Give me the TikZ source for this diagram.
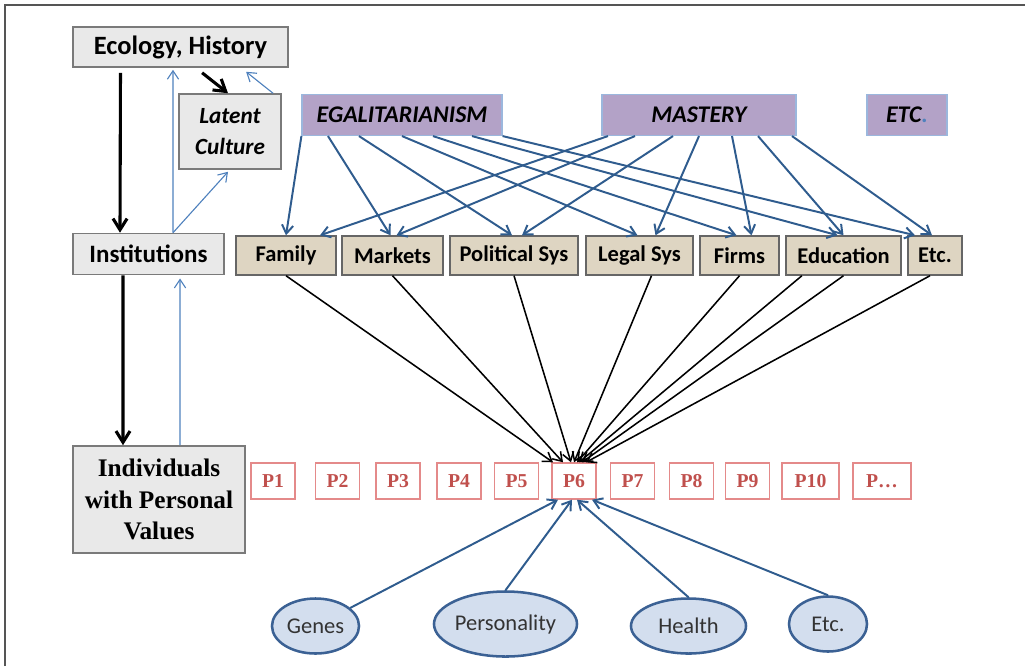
\documentclass[tikz,border=0pt]{standalone}
\usepackage{fontspec}
\setmainfont{Carlito}
\newfontfamily\timesfont{Liberation Serif}
\usetikzlibrary{shapes.geometric,arrows.meta}

\definecolor{framegrey}{HTML}{555555}
\definecolor{greyfill}{HTML}{E9E9E9}
\definecolor{greyedge}{HTML}{7A7A7A}
\definecolor{tanfill}{HTML}{DED5C2}
\definecolor{tanedge}{HTML}{666666}
\definecolor{lilac}{HTML}{B3A2C7}
\definecolor{lilacedge}{HTML}{9BB7DD}
\definecolor{steel}{HTML}{2F5C8E}
\definecolor{skyblue}{HTML}{4F81BD}
\definecolor{pred}{HTML}{C0504D}
\definecolor{pedge}{HTML}{E48A8A}
\definecolor{ovalfill}{HTML}{D3DEEE}
\definecolor{ovaledge}{HTML}{3B6194}

\tikzstyle{every node}=[font=\fontsize{16}{19}\selectfont, inner sep=0pt]
\tikzstyle{greybox}=[draw=greyedge, fill=greyfill, line width=1.1pt]
\tikzstyle{valuebox}=[draw=lilacedge, fill=lilac, line width=0.8pt, minimum height=1.025cm, font=\fontsize{17}{20}\selectfont\bfseries\itshape]
\tikzstyle{instbox}=[draw=tanedge, fill=tanfill, line width=1pt, minimum height=0.975cm, font=\fontsize{16}{19}\selectfont\bfseries]
\tikzstyle{pbox}=[draw=pedge, line width=1pt, minimum width=1.1cm, minimum height=0.9cm, text=pred, font=\fontsize{14}{16}\timesfont\bfseries]
\tikzstyle{factor}=[ellipse, draw=ovaledge, fill=ovalfill, line width=1.8pt, minimum height=1.375cm, text=black!80]
\tikzstyle{vlink}=[->, steel, line width=1.4pt]
\tikzstyle{plink}=[->, black, line width=1.1pt]
\tikzstyle{bigdown}=[->, black, line width=2.2pt, >={Straight Barb[length=8pt,width=10pt]}]
\tikzstyle{thinup}=[->, skyblue, line width=0.8pt]

\begin{document}
\begin{tikzpicture}[x=0.025cm, y=-0.025cm, >={Straight Barb[length=6pt,width=8pt]}]
            % 边框
            \useasboundingbox (0,0) rectangle (1025,666);
            \draw[framegrey, line width=1pt] (5,666) -- (5,5) -- (1025,5);

            % 左列
            \node[greybox, minimum width=5.375cm, minimum height=1cm, font=\fontsize{18.8}{20}\selectfont\bfseries] (eco) at (180.5,47) {Ecology, History};
            \node[greybox, minimum width=2.55cm, minimum height=1.875cm, align=center, font=\fontsize{16.5}{22.5}\selectfont\bfseries\itshape] (latent) at (230,131.5) {Latent\\Culture};
            \node[greybox, minimum width=3.775cm, minimum height=1.025cm, font=\fontsize{17.8}{20}\selectfont\bfseries] (inst) at (148.5,254) {Institutions};
            \node[greybox, minimum width=4.3cm, minimum height=2.675cm, align=center, font=\fontsize{18}{22.5}\timesfont\bfseries] (indiv) at (159,499.5) {Individuals\\with Personal\\Values};

            % 价值取向
            \node[valuebox, minimum width=5cm] (egal) at (402,115) {EGALITARIANISM};
            \node[valuebox, minimum width=4.85cm] (mastery) at (699,115) {MASTERY};
            \node[valuebox, minimum width=2cm] (etcv) at (907,115) {ETC\textcolor{skyblue}{.}};

            % 制度
            \node[instbox, minimum width=2.5cm] (family) at (286,255.5) {Family};
            \node[instbox, minimum width=2.525cm] (markets) at (392.5,255.5) {Markets};
            \node[instbox, minimum width=3.2cm] (polsys) at (514,255.5) {Political Sys};
            \node[instbox, minimum width=2.675cm] (legal) at (639.5,255.5) {Legal Sys};
            \node[instbox, minimum width=1.975cm] (firms) at (739.5,255.5) {Firms};
            \node[instbox, minimum width=2.875cm] (edu) at (843.5,255.5) {Education};
            \node[instbox, minimum width=1.35cm] (etcb) at (935,255.5) {Etc.};

            % 个人
            \node[pbox] (p1) at (273,481) {P1};
            \node[pbox] (p2) at (337.5,481) {P2};
            \node[pbox] (p3) at (398,481) {P3};
            \node[pbox] (p4) at (459,481) {P4};
            \node[pbox] (p5) at (516.5,481) {P5};
            \node[pbox] (p6) at (574,481) {P6};
            \node[pbox] (p7) at (632.5,481) {P7};
            \node[pbox] (p8) at (691.5,481) {P8};
            \node[pbox] (p9) at (747.5,481) {P9};
            \node[pbox, minimum width=1.425cm] (p10) at (810.5,481) {P10};
            \node[pbox, minimum width=1.45cm] (pmore) at (882,481) {P\dots};

            % 个体因素
            \node[factor, minimum width=2.175cm] (genes) at (315.5,626) {Genes};
            \node[factor, minimum width=3.075cm, minimum height=1.625cm] (pers) at (505.5,624) {Personality};
            \node[factor, minimum width=2.875cm] (health) at (688.5,626) {Health};
            \node[factor, minimum width=1.95cm] (etce) at (828,624) {Etc.};

            % 左列箭头
            \draw[bigdown] ([xshift=-1.5cm,yshift=-0.125cm]eco.south) -- ([xshift=-0.7125cm]inst.north);
            \draw[bigdown] ([xshift=0.54cm,yshift=-0.125cm]eco.south) -- ([xshift=-0.05cm]latent.north);
            \draw[thinup] ([xshift=0.6125cm]inst.north) -- ([xshift=-0.1875cm,yshift=-0.05cm]eco.south);
            \draw[thinup] ([xshift=1.075cm]latent.north) -- ([xshift=1.64cm,yshift=-0.1cm]eco.south);
            \draw[thinup] ([xshift=0.6125cm]inst.north) -- ([xshift=-0.05cm,yshift=-0.05cm]latent.south);
            \draw[bigdown] ([xshift=-0.6375cm]inst.south) -- ([xshift=-0.9cm]indiv.north);
            \draw[thinup] ([xshift=0.525cm]indiv.north) -- ([xshift=0.7875cm,yshift=-0.08cm]inst.south);

            % 价值取向 -> 制度
            \draw[vlink] (egal.south west) -- (family.north);
            \draw[vlink] ([xshift=-1.85cm]egal.south) -- ([xshift=-0.05cm]markets.north);
            \draw[vlink] ([xshift=-1.075cm]egal.south) -- ([xshift=-0.05cm]polsys.north);
            \draw[vlink] (egal.south) -- ([xshift=-0.05cm]legal.north);
            \draw[vlink] ([xshift=0.775cm]egal.south) -- ([xshift=-0.075cm]firms.north);
            \draw[vlink] ([xshift=1.75cm]egal.south) -- ([xshift=-0.15cm]edu.north);
            \draw[vlink] (egal.south east) -- ([xshift=-0.5cm]etcb.north);
            \draw[vlink] ([xshift=-2.275cm]mastery.south) -- ([xshift=0.85cm]family.north);
            \draw[vlink] ([xshift=-1.6cm]mastery.south) -- ([xshift=0.1cm]markets.north);
            \draw[vlink] ([xshift=-0.65cm]mastery.south) -- ([xshift=0.2cm]polsys.north);
            \draw[vlink] (mastery.south) -- ([xshift=0.4cm]legal.north);
            \draw[vlink] ([xshift=0.825cm]mastery.south) -- ([xshift=0.3cm]firms.north);
            \draw[vlink] ([xshift=1.475cm]mastery.south) -- (edu.north);
            \draw[vlink] ([xshift=2.325cm]mastery.south) -- ([xshift=-0.075cm]etcb.north);

            % 制度 -> P6
            \draw[plink] (family.south) -- ([xshift=-0.525cm]p6.north);
            \draw[plink] (markets.south) -- ([xshift=-0.275cm]p6.north);
            \draw[plink] (polsys.south) -- ([xshift=-0.075cm]p6.north);
            \draw[plink] ([xshift=0.3cm]legal.south) -- (p6.north);
            \draw[plink] (firms.south) -- ([xshift=0.075cm]p6.north);
            \draw[plink] ([xshift=-1.04cm]edu.south) -- ([xshift=0.125cm]p6.north);
            \draw[plink] (edu.south) -- ([xshift=0.2cm]p6.north);
            \draw[plink] ([xshift=-0.125cm]etcb.south) -- ([xshift=0.3cm]p6.north);

            % 个体因素 -> P6
            \draw[vlink] (genes) -- ([xshift=-0.4cm]p6.south);
            \draw[vlink] (pers.north) -- ([xshift=-0.05cm]p6.south);
            \draw[vlink] (health.north) -- ([xshift=0.075cm]p6.south);
            \draw[vlink] (etce.north) -- ([xshift=0.45cm]p6.south);
        \end{tikzpicture}
\end{document}
